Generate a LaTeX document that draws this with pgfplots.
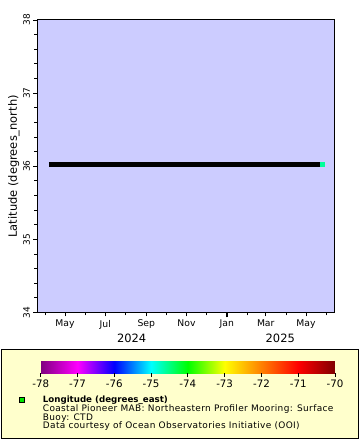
\documentclass[border=0pt]{standalone}
\usepackage{pgfplots}
\pgfplotsset{compat=1.18}
\usepackage{fontspec}
\setmainfont{DejaVu Sans}
\setsansfont{DejaVu Sans}
\definecolor{plotbg}{RGB}{204,204,255}
\definecolor{legbg}{RGB}{255,255,204}
\begin{document}
\begin{tikzpicture}[x=1bp,y=1bp]
\path[use as bounding box] (0,0) rectangle (360,440);
\fill[white] (0,0) rectangle (360,440);
\coordinate (AX) at (37.5,127.5);
\coordinate (CB) at (40.7,75.3);
% legend panel
\filldraw[fill=legbg, draw=black, line width=1bp] (1,1.7) rectangle (358.3,90);
\begin{axis}[
  at={(AX)}, anchor=south west,
  width=296.5bp, height=292.5bp, scale only axis,
  xmin=79.3, xmax=528.4, ymin=34, ymax=38,
  clip=false,
  axis background/.style={fill=plotbg},
  axis line style={line width=1bp},
  tick align=outside, tick pos=left,
  every tick/.style={black, line width=0.8bp},
  major tick length=4bp, minor tick length=3bp,
  ytick={34,35,36,37,38},
  minor y tick num=4,
  /pgf/number format/assume math mode=true,
  yticklabel style={rotate=90, anchor=south, font=\fontsize{9}{10}\selectfont},
  xtick={121,182,244,305,366,425,486},
  xticklabels={May,Jul,Sep,Nov,Jan,Mar,May},
  minor xtick={91,152,213,274,335,397,456,517},
  xticklabel style={font=\fontsize{9.3}{10}\selectfont},
  extra x ticks={366}, extra x tick labels={},
  extra x tick style={major tick length=5bp, every tick/.style={black, line width=1.6bp}},
  ylabel={Latitude (degrees\_north)},
  ylabel style={at={(axis description cs:-0.0793,0.5)}, anchor=center, font=\fontsize{11.5}{12}\selectfont},
  colormap={erddap}{rgb255(0)=(128,0,128) rgb255(1)=(255,0,255) rgb255(2)=(0,0,255) rgb255(3)=(0,255,255) rgb255(4)=(0,255,0) rgb255(5)=(255,255,0) rgb255(6)=(255,128,0) rgb255(7)=(255,0,0) rgb255(8)=(128,0,0)},
  point meta min=-78, point meta max=-70,
  colorbar horizontal,
  colorbar style={
    at={(CB)}, anchor=south west,
    width=294.3bp, height=11.7bp, scale only axis,
    xtick={-78,-77,-76,-75,-74,-73,-72,-71,-70},
    tick align=outside, xtick pos=left, ytick=\empty,
    major tick length=3.5bp,
    every tick/.style={black, line width=0.8bp},
    axis line style={draw=none},
    /pgf/number format/assume math mode=true,
    xticklabel style={font=\fontsize{10.3}{11}\selectfont},
  },
]
\addplot[black, line width=5bp, line cap=butt] coordinates {(96.7,36.03) (510.4,36.03)};
\addplot[scatter, only marks, mark=square*, mark size=2.3bp, point meta=explicit,
  scatter/use mapped color={draw=mapped color, fill=mapped color}]
  coordinates {(510.4,36.03) [-74.6]};
\node[font=\fontsize{11.5}{12}\selectfont] at (axis cs:222,34) [yshift=-25.5bp] {2024};
\node[font=\fontsize{11.5}{12}\selectfont] at (axis cs:447,34) [yshift=-25.5bp] {2025};
\end{axis}
% legend key and text
\filldraw[fill={rgb,255:red,0;green,230;blue,0}, draw=black, line width=1bp] (19.3,37.3) rectangle (24.3,42);
\node[anchor=base west, inner sep=0, font=\fontsize{8.7}{9}\selectfont\bfseries] at (42.7,37.3) {Longitude (degrees\_east)};
\node[anchor=base west, inner sep=0, font=\fontsize{9}{9}\selectfont\addfontfeature{LetterSpace=4}] at (42.7,28.4) {Coastal Pioneer MAB: Northeastern Profiler Mooring: Surface};
\node[anchor=base west, inner sep=0, font=\fontsize{9}{9}\selectfont\addfontfeature{LetterSpace=4}] at (42.7,19.7) {Buoy: CTD};
\node[anchor=base west, inner sep=0, font=\fontsize{9}{9}\selectfont\addfontfeature{LetterSpace=4}] at (42.7,11) {Data courtesy of Ocean Observatories Initiative (OOI)};
\end{tikzpicture}
\end{document}
